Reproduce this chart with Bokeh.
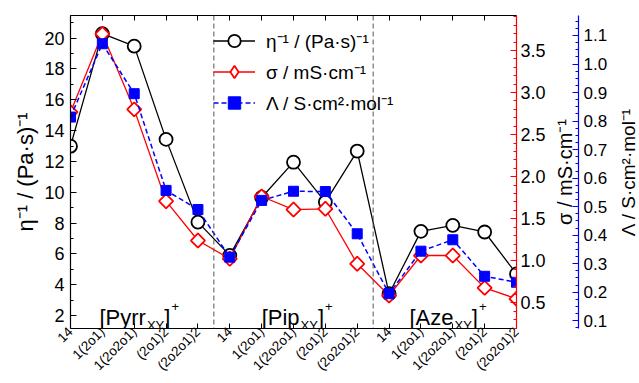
import math
from bokeh.plotting import figure
from bokeh.layouts import row
from bokeh.models import (Range1d, LinearAxis, FixedTicker, Span, Legend, LegendItem,
                          ColumnDataSource, Label, PrintfTickFormatter, Title)
from bokeh.embed import file_html
from bokeh.resources import INLINE

# ---------------- data ----------------
categories = ["14", "1(2o1)", "1(2o2o1)", "(2o1)2", "(2o2o1)2",
              "14", "1(2o1)", "1(2o2o1)", "(2o1)2", "(2o2o1)2",
              "14", "1(2o1)", "1(2o2o1)", "(2o1)2", "(2o2o1)2"]
group_names = ["Pyrr", "Pip", "Aze"]
eta_inv = [12.99, 20.29, 19.48, 13.43, 8.06,
           5.90, 9.66, 11.95, 9.36, 12.67,
           3.41, 7.46, 7.85, 7.42, 4.70]
sigma = [2.766, 3.697, 2.80, 1.709, 1.242,
         1.025, 1.765, 1.61, 1.619, 0.966,
         0.589, 1.064, 1.064, 0.68, 0.55]
molar = [0.814, 1.071, 0.896, 0.557, 0.490,
         0.323, 0.522, 0.554, 0.553, 0.405,
         0.195, 0.344, 0.384, 0.256, 0.235]
eta_ticks = [2, 4, 6, 8, 10, 12, 14, 16, 18, 20]
sigma_ticks = [0.5, 1.0, 1.5, 2.0, 2.5, 3.0, 3.5]
molar_ticks = [0.1, 0.2, 0.3, 0.4, 0.5, 0.6, 0.7, 0.8, 0.9, 1.0, 1.1]

eta_title = "η⁻¹ / (Pa·s)⁻¹"
sigma_title = "σ / mS·cm⁻¹"
molar_title = "Λ / S·cm²·mol⁻¹"

FONT = "Liberation Sans"
x = list(range(len(categories)))
n_per_group = len(categories) // len(group_names)
eta_range = Range1d(1.156, 21.47)
sigma_range = Range1d(0.197, 3.915)
molar_range = Range1d(0.073, 1.170)

TOP, BOTTOM, H = 15, 55, 383


def style_plot(fig):
    fig.grid.visible = False
    fig.outline_line_color = None
    fig.background_fill_color = "white"
    fig.border_fill_color = "white"


def style_y_axis(ax, color, label_size, standoff):
    ax.axis_line_color = color
    ax.axis_line_width = 1.2
    ax.major_tick_line_color = color
    ax.minor_tick_line_color = color
    ax.major_tick_in = 6
    ax.major_tick_out = 0
    ax.minor_tick_in = 3
    ax.minor_tick_out = 0
    ax.major_label_text_font = FONT
    ax.major_label_text_font_size = label_size
    ax.major_label_text_color = "black"
    ax.major_label_standoff = standoff


# ---------------- main plot ----------------
p = figure(width=548, height=H, output_backend="svg", toolbar_location=None,
           x_range=Range1d(0, len(categories) - 1), y_range=eta_range,
           x_axis_location=None, y_axis_location="left",
           min_border_left=70, min_border_right=31, min_border_top=TOP, min_border_bottom=BOTTOM)
p.extra_y_ranges = {"sigma": sigma_range, "molar": molar_range}
style_plot(p)

ya = p.yaxis[0]
ya.ticker = FixedTicker(ticks=eta_ticks, minor_ticks=list(range(1, 22, 2)))
style_y_axis(ya, "black", "18px", 6)
ya.axis_label = eta_title
ya.axis_label_text_font = FONT
ya.axis_label_text_font_size = "22px"
ya.axis_label_text_font_style = "normal"
ya.axis_label_text_color = "black"
ya.axis_label_standoff = 3

xt = FixedTicker(ticks=x)
bx = LinearAxis(ticker=xt, major_label_overrides={i: c for i, c in zip(x, categories)})
bx.major_label_orientation = math.pi / 4
bx.major_label_text_font = FONT
bx.major_label_text_font_size = "13.5px"
bx.major_label_text_color = "black"
bx.major_label_standoff = 1
bx.major_tick_in = 5
bx.major_tick_out = 0
bx.minor_tick_in = 0
bx.minor_tick_out = 0
bx.axis_line_color = "black"
bx.axis_line_width = 1.2
p.add_layout(bx, "below")

tx = LinearAxis(ticker=xt, major_label_overrides={i: "" for i in x})
tx.major_tick_in = 5
tx.major_tick_out = 0
tx.minor_tick_in = 0
tx.minor_tick_out = 0
tx.major_label_standoff = 0
tx.axis_line_color = "black"
tx.axis_line_width = 1.2
p.add_layout(tx, "above")

ra = LinearAxis(y_range_name="sigma",
                ticker=FixedTicker(ticks=sigma_ticks,
                                   minor_ticks=[round(0.2 + 0.1 * k, 2) for k in range(38)]),
                formatter=PrintfTickFormatter(format="%.1f"))
style_y_axis(ra, "red", "18px", 4)
p.add_layout(ra, "right")

for k in range(1, len(group_names)):
    p.add_layout(Span(location=k * n_per_group - 0.5, dimension="height",
                      line_color="#555555", line_width=1, line_dash="5 3"))

src = ColumnDataSource(dict(x=x, eta=eta_inv, sigma=sigma, molar=molar))

l1 = p.line("x", "eta", source=src, line_color="black", line_width=1.3)
s1 = p.scatter("x", "eta", source=src, marker="circle", size=13,
               line_color="black", fill_color="white", line_width=1.8)

l2 = p.line("x", "sigma", source=src, y_range_name="sigma", line_color="red", line_width=1.3)
s2 = p.scatter("x", "sigma", source=src, y_range_name="sigma", marker="square", angle=math.pi / 4,
               size=10, line_color="red", fill_color="white", line_width=1.8)
s2_leg = p.scatter("x", "sigma", source=src, y_range_name="sigma", marker="diamond", size=0,
                   line_color="red", fill_color="white", line_width=1.8)

l3 = p.line("x", "molar", source=src, y_range_name="molar", line_color="blue",
            line_width=1.5, line_dash="5 3")
s3 = p.scatter("x", "molar", source=src, y_range_name="molar", marker="square", size=10,
               line_color="blue", fill_color="blue", line_width=1)

legend = Legend(items=[LegendItem(label=eta_title, renderers=[l1, s1]),
                       LegendItem(label=sigma_title, renderers=[l2, s2_leg]),
                       LegendItem(label=molar_title, renderers=[l3, s3])],
                location=(143, 210), orientation="vertical", padding=0, margin=0, spacing=0,
                glyph_width=42, glyph_height=31, label_height=31, label_standoff=11,
                label_text_font=FONT, label_text_font_size="19px", label_text_color="black",
                background_fill_alpha=0, border_line_alpha=0)
p.add_layout(legend)

# group labels  [Name_XY]^+
W = {'[': 0.278, ']': 0.278, 'P': 0.667, 'y': 0.5, 'r': 0.333, 'i': 0.222, 'p': 0.556,
     'A': 0.667, 'z': 0.5, 'e': 0.556, 'X': 0.667, 'Y': 0.667, '+': 0.584}


def tw(s, fs):
    return sum(W.get(c, 0.55) for c in s) * fs


group_x = [0.91, 6.0, 10.64]
base_y = 1.9
for name, gx in zip(group_names, group_x):
    main = "[" + name
    off = 0.0
    kw = dict(x=gx, y=base_y, text_font=FONT, text_color="black",
              text_align="left", text_baseline="alphabetic")
    p.add_layout(Label(text=main, x_offset=off, text_font_size="22px", **kw))
    off += tw(main, 22) + 1
    p.add_layout(Label(text="XY", x_offset=off, y_offset=-8, text_font_size="13px", **kw))
    off += tw("XY", 13)
    p.add_layout(Label(text="]", x_offset=off, text_font_size="22px", **kw))
    off += tw("]", 22) + 1
    p.add_layout(Label(text="+", x_offset=off, y_offset=11, text_font_size="13px", **kw))

# ---------------- sigma title + blue axis ----------------
p2 = figure(width=62, height=H, output_backend="svg", toolbar_location=None,
            x_range=Range1d(0, 1), y_range=molar_range,
            x_axis_location=None, y_axis_location=None,
            min_border_left=29, min_border_right=32, min_border_top=TOP, min_border_bottom=BOTTOM)
style_plot(p2)
ba = LinearAxis(ticker=FixedTicker(ticks=molar_ticks,
                                   minor_ticks=[round(0.075 + 0.025 * k, 3) for k in range(45)]),
                formatter=PrintfTickFormatter(format="%.1f"))
style_y_axis(ba, "blue", "17px", 5)
p2.add_layout(ba, "right")
p2.add_layout(Title(text=sigma_title, align="center", text_font=FONT, text_font_size="20px",
                    text_font_style="normal", text_color="black", standoff=4), "left")

# ---------------- molar conductivity title ----------------
p3 = figure(width=29, height=H, output_backend="svg", toolbar_location=None,
            x_range=Range1d(0, 1), y_range=molar_range,
            x_axis_location=None, y_axis_location=None,
            min_border_left=28, min_border_right=0, min_border_top=TOP, min_border_bottom=BOTTOM)
style_plot(p3)
p3.add_layout(Title(text=molar_title, align="center", text_font=FONT, text_font_size="19px",
                    text_font_style="normal", text_color="black", standoff=0), "left")

layout = row(p, p2, p3, spacing=0)
open("out.html", "w").write(file_html(layout, INLINE))
